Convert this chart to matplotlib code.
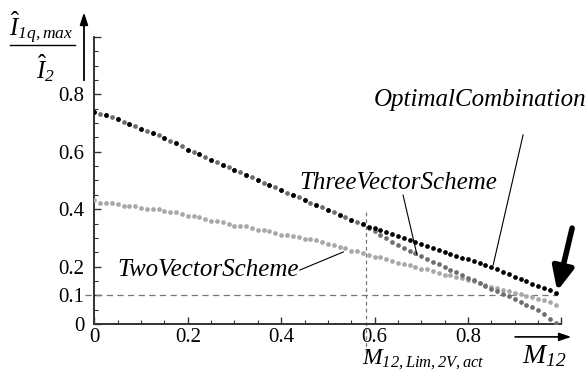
import numpy as np
import matplotlib
matplotlib.use('Agg')
import matplotlib.pyplot as plt

plt.rcParams['font.family'] = ['Liberation Serif', 'DejaVu Serif']
plt.rcParams['mathtext.fontset'] = 'custom'
plt.rcParams['mathtext.rm'] = 'Liberation Serif'
plt.rcParams['mathtext.it'] = 'Liberation Serif:italic'
plt.rcParams['mathtext.sf'] = 'Liberation Serif:italic'  # italic digits in subscripts
plt.rcParams['mathtext.bf'] = 'Liberation Serif:bold'

two_vector = [0.432, 0.422, 0.421, 0.420, 0.419, 0.412, 0.411, 0.410, 0.405, 0.401,
              0.400, 0.399, 0.392, 0.390, 0.389, 0.383, 0.376, 0.375, 0.374, 0.367,
              0.360, 0.359, 0.357, 0.350, 0.343, 0.342, 0.340, 0.334, 0.327, 0.326,
              0.324, 0.318, 0.311, 0.310, 0.308, 0.302, 0.296, 0.295, 0.291, 0.284,
              0.277, 0.275, 0.270, 0.264, 0.255, 0.253, 0.248, 0.242, 0.234, 0.232,
              0.227, 0.220, 0.212, 0.210, 0.205, 0.199, 0.192, 0.190, 0.185, 0.179,
              0.172, 0.170, 0.165, 0.159, 0.152, 0.149, 0.143, 0.137, 0.130, 0.127,
              0.120, 0.114, 0.107, 0.104, 0.099, 0.094, 0.087, 0.083, 0.075, 0.067]
three_vector = [0.740, 0.733, 0.727, 0.720, 0.713, 0.705, 0.697, 0.689, 0.681, 0.673,
                0.665, 0.657, 0.648, 0.639, 0.630, 0.621, 0.608, 0.600, 0.591, 0.582,
                0.573, 0.564, 0.555, 0.546, 0.538, 0.529, 0.520, 0.511, 0.502, 0.493,
                0.484, 0.476, 0.467, 0.458, 0.449, 0.441, 0.432, 0.423, 0.415, 0.406,
                0.398, 0.390, 0.381, 0.373, 0.364, 0.356, 0.347, 0.336, 0.323, 0.311,
                0.299, 0.287, 0.276, 0.266, 0.256, 0.246, 0.236, 0.227, 0.217, 0.208,
                0.198, 0.189, 0.180, 0.170, 0.161, 0.152, 0.142, 0.133, 0.123, 0.114,
                0.105, 0.096, 0.087, 0.077, 0.067, 0.058, 0.048, 0.034, 0.019, 0.004]
optimal = three_vector[:47] + [
                0.337, 0.333, 0.326, 0.319, 0.312, 0.305, 0.299, 0.292, 0.285, 0.277,
                0.271, 0.265, 0.258, 0.251, 0.245, 0.238, 0.231, 0.225, 0.218, 0.212,
                0.205, 0.198, 0.190, 0.182, 0.173, 0.165, 0.157, 0.149, 0.141, 0.134,
                0.126, 0.117, 0.109]
m12 = np.arange(len(two_vector)) * 0.0125

threshold = 0.1
m_lim = 0.581

fig = plt.figure(figsize=(5.86, 3.76), dpi=100)
ax = fig.add_axes([0.161, 0.1383, 0.797, 0.7633])

# optimal coincides with the three vector scheme on the left, show every other dot there
show_opt = [(i % 2 == 0) or (i >= 47) for i in range(len(optimal))]

ax.plot(m12, two_vector, ls='none', marker='o', ms=3.4, mec='none', color='#a8a8a8', zorder=3)
ax.plot(m12, three_vector, ls='none', marker='o', ms=3.4, mec='none', color='#6e6e6e', zorder=4)
ax.plot(m12, optimal, ls='none', marker='o', ms=3.4, mec='none', color='black',
        markevery=show_opt, zorder=5)

# reference lines
ax.plot([-0.02, 0.99], [threshold, threshold], ls=(0, (5, 3.5)), lw=0.9, color='#777777',
        clip_on=False, zorder=2)
ax.plot([m_lim, m_lim], [0.39, -0.11], ls=(0, (3, 2.5)), lw=0.9, color='#777777',
        clip_on=False, zorder=2)

ax.set_xlim(0, 1)
ax.set_ylim(0, 1)
for s in ['top', 'right']:
    ax.spines[s].set_visible(False)
for s in ['left', 'bottom']:
    ax.spines[s].set_linewidth(1.4)
    ax.spines[s].set_color('#333333')

ax.set_xticks([0, 0.2, 0.4, 0.6, 0.8, 1.0])
ax.set_xticklabels(['0', '0.2', '0.4', '0.6', '0.8', ''])
ax.set_yticks([0, 0.1, 0.2, 0.4, 0.6, 0.8, 1.0])
ax.set_yticklabels(['0', '0.1', '0.2', '0.4', '0.6', '0.8', ''])
ax.set_xticks(np.arange(0, 1.0001, 0.05), minor=True)
ax.set_yticks(np.arange(0, 1.0001, 0.05), minor=True)
ax.tick_params(which='major', direction='in', length=5, width=1, color='#333333',
               labelsize=15)
ax.tick_params(which='minor', direction='in', length=3, width=0.8, color='#333333')
ax.tick_params(axis='x', pad=3)
ax.tick_params(axis='y', pad=7)

# series labels with leader lines
lbl = dict(fontsize=18, style='italic', ha='center', va='center')
ax.text(0.826, 0.78, 'OptimalCombination', clip_on=False, **lbl)
ax.plot([0.918, 0.854], [0.659, 0.206], color='black', lw=0.8, zorder=6)
ax.text(0.650, 0.491, 'ThreeVectorScheme', **lbl)
ax.plot([0.661, 0.691], [0.449, 0.240], color='black', lw=0.8, zorder=6)
ax.text(0.244, 0.188, 'TwoVectorScheme', **lbl)
ax.plot([0.440, 0.533], [0.188, 0.251], color='black', lw=0.8, zorder=6)

# big arrow at the end of optimal curve
ax.annotate('', xy=(0.991, 0.115), xytext=(1.023, 0.334), annotation_clip=False,
            arrowprops=dict(arrowstyle='-|>,head_length=0.7,head_width=0.32',
                            mutation_scale=20, lw=4, color='black', shrinkA=0, shrinkB=0))

# axis labels and arrows
fig.text(0.070, 0.926, r'$\hat{I}_{\mathsf{1q,max}}$', fontsize=18, ha='center', va='center')
fig.text(0.078, 0.820, r'$\hat{I}_{\mathsf{2}}$', fontsize=18, ha='center', va='center')
fig.add_artist(plt.Line2D([0.017, 0.128], [0.880, 0.880], color='black', lw=1))
fig.add_artist(plt.Line2D([0.1433, 0.1433], [0.787, 0.94], color='black', lw=1.3))
ax.annotate('', xy=(0.1433, 0.967), xytext=(0.1433, 0.93), xycoords='figure fraction',
            textcoords='figure fraction',
            arrowprops=dict(arrowstyle='-|>,head_length=0.6,head_width=0.2',
                            mutation_scale=12, lw=1.3, color='black', shrinkA=0, shrinkB=0))
ax.annotate('', xy=(0.975, 0.104), xytext=(0.879, 0.104), xycoords='figure fraction',
            textcoords='figure fraction',
            arrowprops=dict(arrowstyle='-|>,head_length=0.6,head_width=0.2',
                            mutation_scale=12, lw=1.2, color='black', shrinkA=0, shrinkB=0))
fig.text(0.928, 0.052, r'$M_{\mathsf{12}}$', fontsize=20, ha='center', va='center')
fig.text(0.618, 0.044, r'$M_{\mathsf{12,Lim,2V,act}}$', fontsize=17, ha='left', va='center')

fig.savefig('out.png', dpi=100)
